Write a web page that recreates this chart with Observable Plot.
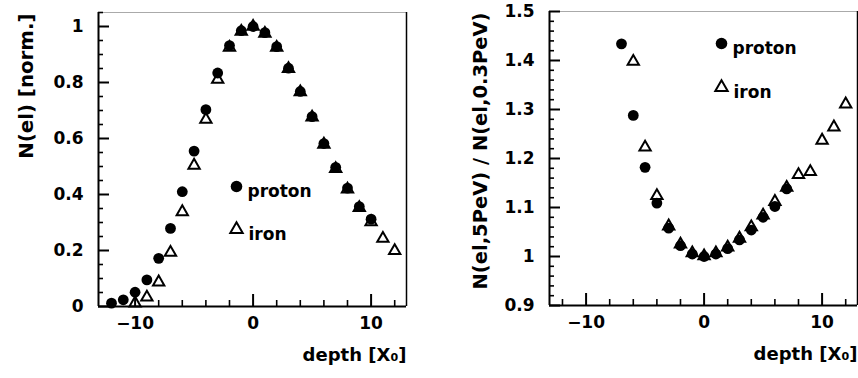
<!DOCTYPE html>
<html>
<head>
<meta charset="utf-8">
<script src="https://cdn.jsdelivr.net/npm/d3@7"></script>
<script src="https://cdn.jsdelivr.net/npm/@observablehq/plot@0.6"></script>
<style>
  html, body { margin: 0; padding: 0; background: #fff; }
  #wrap { display: flex; width: 858px; height: 378px; }
</style>
</head>
<body>
<div id="wrap"></div>
<script>
// ---- Data ----
const protonLeftDepth = [-12,-11,-10,-9,-8,-7,-6,-5,-4,-3,-2,-1,0,1,2,3,4,5,6,7,8,9,10];
const protonLeftN = [0.012,0.024,0.051,0.095,0.172,0.279,0.41,0.555,0.703,0.834,0.932,0.985,1.0,0.978,0.928,0.851,0.768,0.678,0.582,0.497,0.423,0.357,0.312];
const ironLeftDepth = [-10,-9,-8,-7,-6,-5,-4,-3,-2,-1,0,1,2,3,4,5,6,7,8,9,10,11,12];
const ironLeftN = [0.012,0.033,0.087,0.193,0.338,0.504,0.668,0.811,0.925,0.982,1.0,0.975,0.925,0.849,0.766,0.676,0.579,0.492,0.419,0.353,0.302,0.243,0.199];

const protonRightDepth = [-7,-6,-5,-4,-3,-2,-1,0,1,2,3,4,5,6,7];
const protonRightRatio = [1.434,1.288,1.182,1.109,1.058,1.022,1.005,1.0,1.005,1.016,1.034,1.054,1.08,1.102,1.138];
const ironRightDepth = [-6,-5,-4,-3,-2,-1,0,1,2,3,4,5,6,7,8,9,10,11,12];
const ironRightRatio = [1.398,1.223,1.124,1.062,1.025,1.007,1.001,1.007,1.019,1.037,1.06,1.084,1.112,1.141,1.167,1.173,1.237,1.264,1.311];

const xMajorTicks = [-10, 0, 10];
const xMinorTicks = [-12,-8,-6,-4,-2,2,4,6,8,12];
const leftYMajorTicks = [0, 0.2, 0.4, 0.6, 0.8, 1];
const leftYMinorTicks = [0.05,0.1,0.15,0.25,0.3,0.35,0.45,0.5,0.55,0.65,0.7,0.75,0.85,0.9,0.95,1.05];
const rightYMajorTicks = [0.9, 1, 1.1, 1.2, 1.3, 1.4, 1.5];
const rightYMinorTicks = [0.92,0.94,0.96,0.98,1.02,1.04,1.06,1.08,1.12,1.14,1.16,1.18,1.22,1.24,1.26,1.28,1.32,1.34,1.36,1.38,1.42,1.44,1.46,1.48];
const seriesNames = ["proton", "iron"];
const xLabel = "depth [X\u2080]";
const leftYLabel = "N(el) [norm.]";
const rightYLabel = "N(el,5PeV) / N(el,0.3PeV)";

const font = "'DejaVu Sans', sans-serif";
const ink = "#000";

function pts(xs, ys) { return xs.map((x, i) => ({x, y: ys[i]})); }
function fmtX(d) { return d < 0 ? "\u2212" + (-d) : String(d); }

function panel(opts) {
  const {width, marginLeft, marginRight, marginTop, marginBottom, yDomain, yMajor, yMinor,
         proton, iron, yLabel, yLabelDx, yLabelSize, legend} = opts;
  const height = 378;
  const xDomain = [-13.1, 13];
  return Plot.plot({
    width, height, marginLeft, marginRight, marginTop, marginBottom,
    style: {fontFamily: font, fontSize: "17px", fontWeight: "bold", background: "#fff", overflow: "visible"},
    x: {domain: xDomain, axis: null},
    y: {domain: yDomain, axis: null},
    marks: [
      // frame
      Plot.ruleY([yDomain[1]], {stroke: "#aaa", strokeWidth: 1}),
      Plot.ruleX([xDomain[1]], {stroke: ink, strokeWidth: 1.5}),
      Plot.ruleX([xDomain[0]], {stroke: ink, strokeWidth: 2}),
      Plot.ruleY([yDomain[0]], {stroke: ink, strokeWidth: 2}),
      // ticks (pointing inward: shifted by their own length)
      Plot.axisX({ticks: xMajorTicks, tickSize: 12, dy: -12, tickFormat: () => "", label: null, stroke: ink, strokeWidth: 2}),
      Plot.axisX({ticks: xMinorTicks, tickSize: 6, dy: -6, tickFormat: () => "", label: null, stroke: ink, strokeWidth: 1.6}),
      Plot.axisY({ticks: yMajor, tickSize: 11, dx: 11, tickFormat: () => "", label: null, stroke: ink, strokeWidth: 2}),
      Plot.axisY({ticks: yMinor, tickSize: 5, dx: 5, tickFormat: () => "", label: null, stroke: ink, strokeWidth: 1.6}),
      // tick labels
      Plot.axisX({ticks: xMajorTicks, tickSize: 0, tickPadding: 10, tickFormat: fmtX, label: null, fill: ink}),
      Plot.axisY({ticks: yMajor, tickSize: 0, tickPadding: 15, tickFormat: d => String(d), label: null, fill: ink}),
      // data
      Plot.dot(proton, {x: "x", y: "y", r: 5.4, fill: ink, stroke: "none"}),
      Plot.dot(iron, {x: "x", y: "y", r: 4.2, symbol: "triangle", fill: "none", stroke: ink, strokeWidth: 2}),
      // legend
      Plot.dot([0], {frameAnchor: "top-left", dx: legend.dx, dy: legend.dy1, r: 5.8, fill: ink, stroke: "none"}),
      Plot.dot([0], {frameAnchor: "top-left", dx: legend.dx, dy: legend.dy2, r: 4.6, symbol: "triangle", fill: "none", stroke: ink, strokeWidth: 2}),
      Plot.text([seriesNames[0]], {frameAnchor: "top-left", dx: legend.dx + 11, dy: legend.dy1 - 2, textAnchor: "start", fill: ink}),
      Plot.text([seriesNames[1]], {frameAnchor: "top-left", dx: legend.dx + 12, dy: legend.dy2 - 2, textAnchor: "start", fill: ink}),
      // axis labels
      Plot.text([xLabel], {frameAnchor: "bottom-right", dx: 0, dy: 54, textAnchor: "end", fill: ink, fontSize: 18}),
      Plot.text([yLabel], {frameAnchor: "top-left", dx: yLabelDx, dy: 1, rotate: -90, textAnchor: "end", fill: ink, fontSize: yLabelSize})
    ]
  });
}

const left = panel({
  width: 430, marginLeft: 98, marginRight: 24, marginTop: 12, marginBottom: 72,
  yDomain: [0, 1.05], yMajor: leftYMajorTicks, yMinor: leftYMinorTicks,
  proton: pts(protonLeftDepth, protonLeftN), iron: pts(ironLeftDepth, ironLeftN),
  yLabel: leftYLabel, yLabelDx: -80, yLabelSize: 19.8,
  legend: {dx: 138, dy1: 174, dy2: 217}
});
const right = panel({
  width: 428, marginLeft: 119, marginRight: 1, marginTop: 11, marginBottom: 73,
  yDomain: [0.9, 1.5], yMajor: rightYMajorTicks, yMinor: rightYMinorTicks,
  proton: pts(protonRightDepth, protonRightRatio), iron: pts(ironRightDepth, ironRightRatio),
  yLabel: rightYLabel, yLabelDx: -76, yLabelSize: 19.5,
  legend: {dx: 172, dy1: 32, dy2: 76}
});
document.getElementById("wrap").append(left, right);
</script>
</body>
</html>
